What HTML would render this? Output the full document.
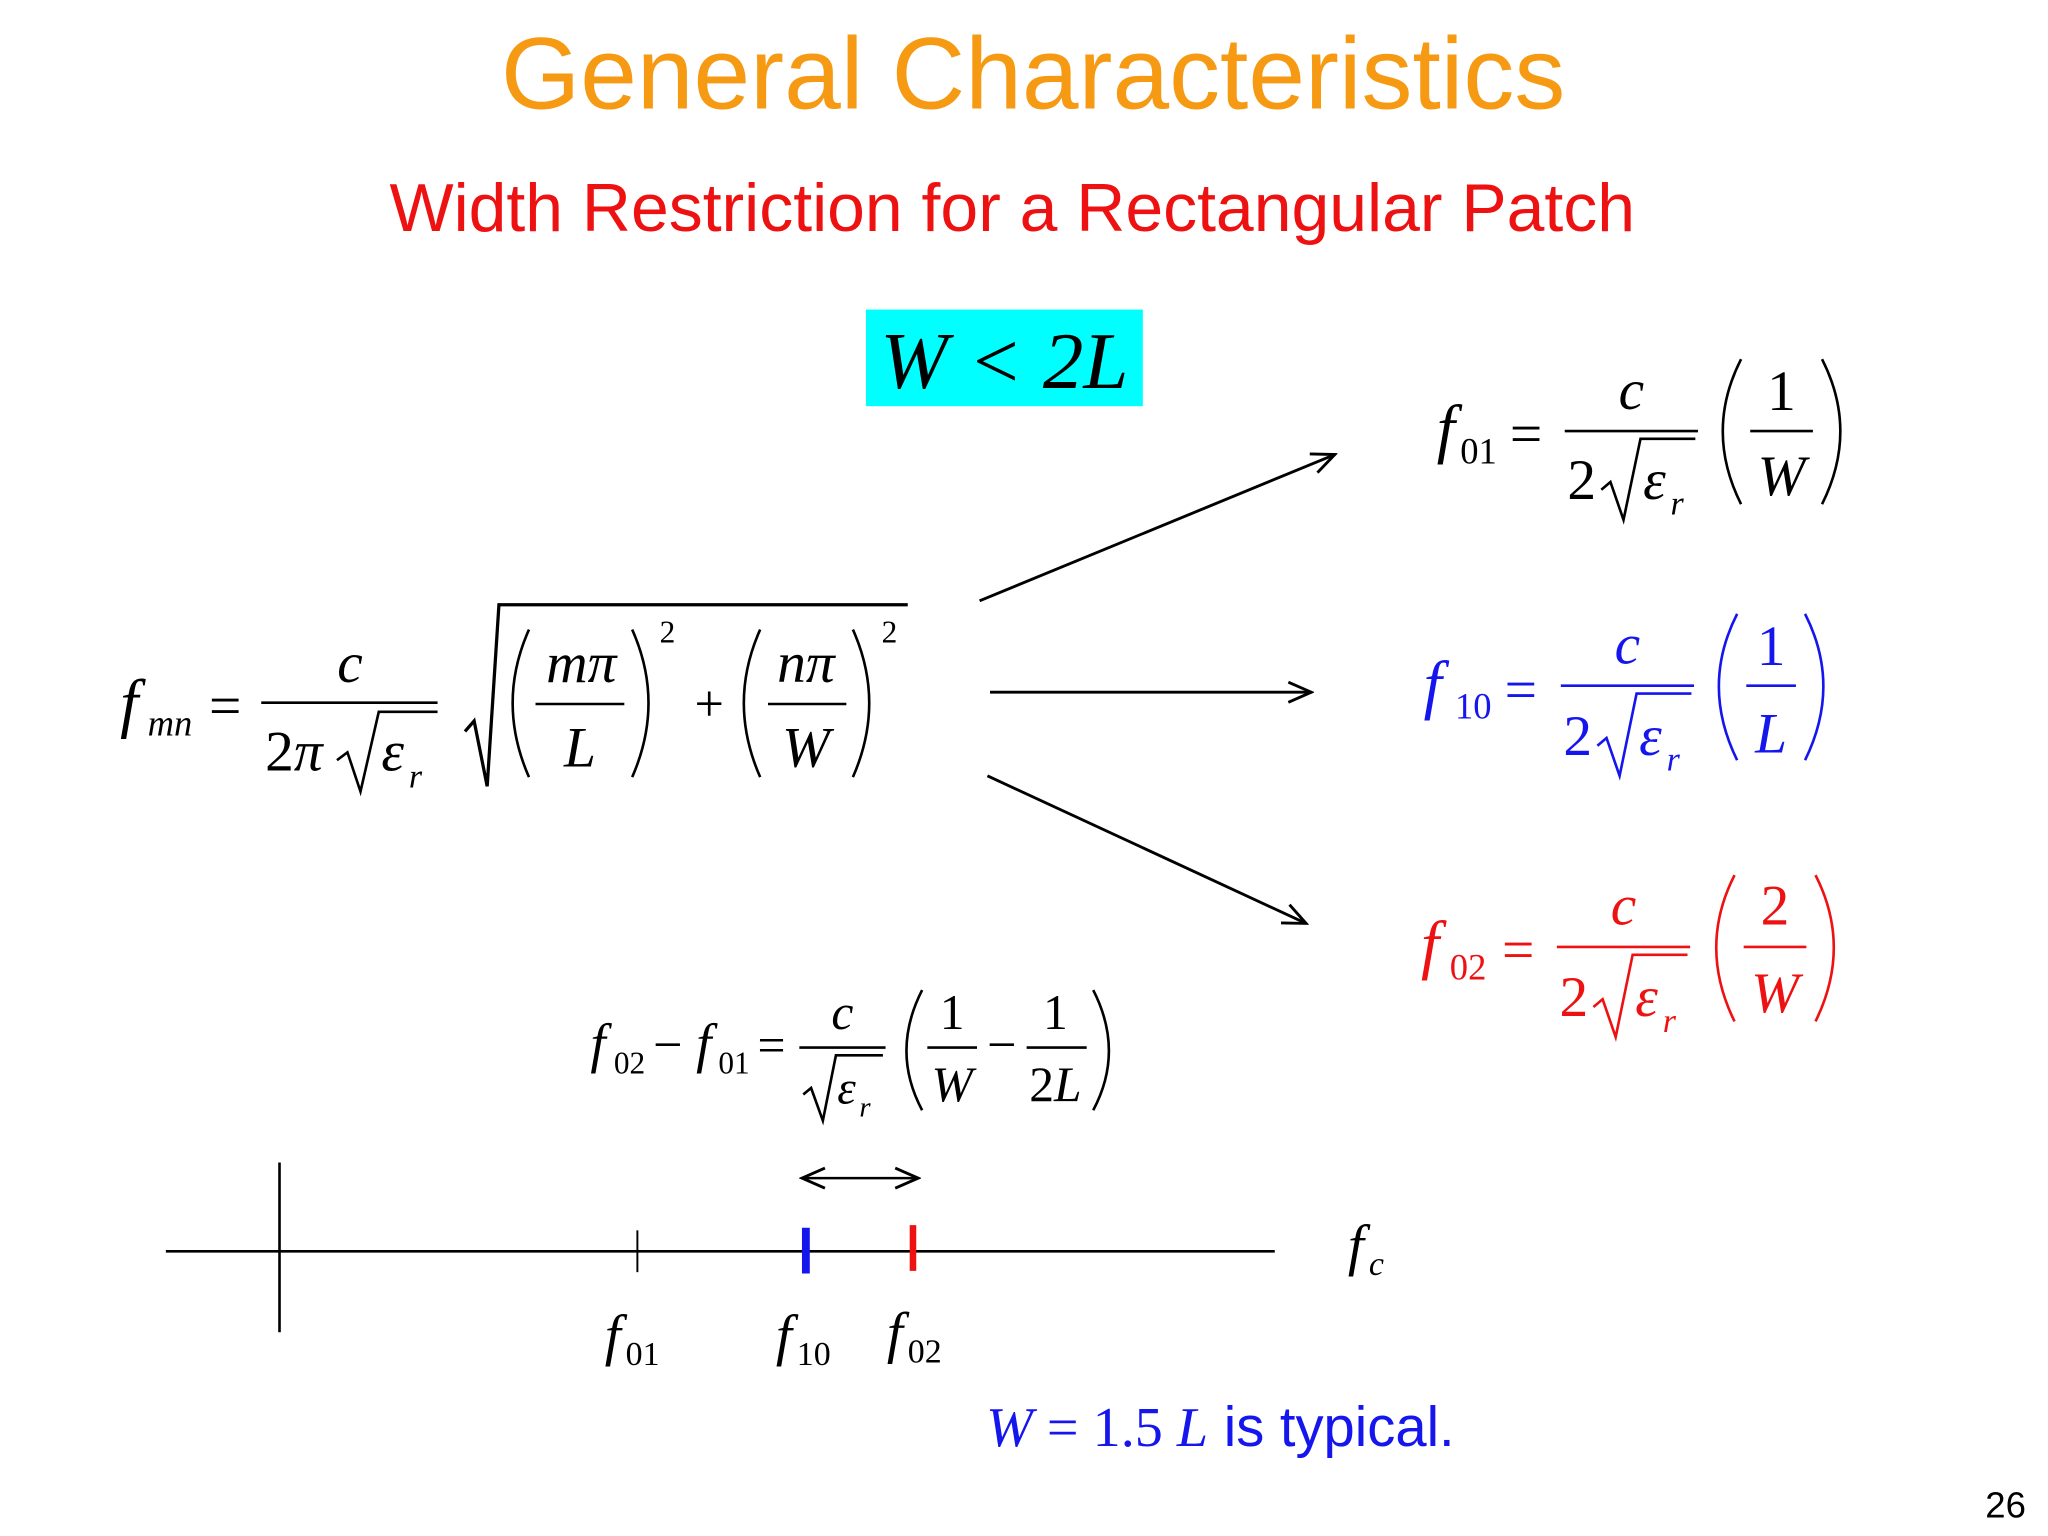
<!DOCTYPE html>
<html><head><meta charset="utf-8"><style>
html,body{margin:0;padding:0;background:#fff;}
svg{display:block}
.m{font-family:"Liberation Serif",serif;font-style:italic}
.n{font-family:"Liberation Serif",serif;font-style:normal}
.s{font-family:"Liberation Sans",sans-serif}
</style></head><body>
<svg width="2048" height="1536" viewBox="0 0 1568 1176" xmlns="http://www.w3.org/2000/svg">
<defs>
<marker id="ah" viewBox="0 0 20 20" refX="18" refY="10" markerWidth="22" markerHeight="22" markerUnits="userSpaceOnUse" orient="auto-start-reverse">
<path d="M2,3 L18,10 L2,17" fill="none" stroke="#000" stroke-width="2"/></marker>
</defs>
<text x="791" y="83" text-anchor="middle" class="s" font-size="78" fill="#F59A12">General Characteristics</text>
<text x="775" y="177" text-anchor="middle" class="s" font-size="52" fill="#EE1111">Width Restriction for a Rectangular Patch</text>
<rect x="663" y="237" width="212" height="74" fill="#00FFFF"/>
<text x="769" y="297" text-anchor="middle" class="m" font-size="62">W &lt; 2L</text>

<g stroke="#000" stroke-width="2.2" fill="none">
<line x1="750" y1="460" x2="1022" y2="348" marker-end="url(#ah)"/>
<line x1="758" y1="530" x2="1004" y2="530" marker-end="url(#ah)"/>
<line x1="756" y1="594" x2="1000" y2="707" marker-end="url(#ah)"/>
</g>

<g>
<text x="92" y="555" class="m" font-size="50">f</text>
<text x="113" y="563" class="m" font-size="28">mn</text>
<text x="160" y="555" class="n" font-size="44">=</text>
<line x1="200" y1="538" x2="335" y2="538" stroke="#000" stroke-width="2"/>
<text x="268" y="522" class="m" font-size="44" text-anchor="middle">c</text>
<text x="203" y="590" class="n" font-size="44">2</text>
<text x="225" y="590" class="m" font-size="44">π</text>
<path d="M258,582 L266,576 L276,606 L290,545 L335,545" fill="none" stroke="#000" stroke-width="2"/>
<text x="292" y="590" class="m" font-size="44">ε</text>
<text x="313" y="603" class="m" font-size="26">r</text>
<path d="M356,560 L363,552 L373,602 L382,463 L695,463" fill="none" stroke="#000" stroke-width="2.5"/>
<path d="M405,482 Q380,538 405,595" fill="none" stroke="#000" stroke-width="2"/>
<path d="M484,482 Q509,538 484,595" fill="none" stroke="#000" stroke-width="2"/>
<text x="505" y="492" class="n" font-size="24">2</text>
<text x="445" y="522" class="m" font-size="44" text-anchor="middle">mπ</text>
<line x1="410" y1="539" x2="478" y2="539" stroke="#000" stroke-width="2"/>
<text x="444" y="587" class="m" font-size="44" text-anchor="middle">L</text>
<text x="543" y="552" class="n" font-size="40" text-anchor="middle">+</text>
<path d="M582,482 Q557,538 582,595" fill="none" stroke="#000" stroke-width="2"/>
<path d="M653,482 Q678,538 653,595" fill="none" stroke="#000" stroke-width="2"/>
<text x="675" y="492" class="n" font-size="24">2</text>
<text x="617" y="522" class="m" font-size="44" text-anchor="middle">nπ</text>
<line x1="588" y1="539" x2="648" y2="539" stroke="#000" stroke-width="2"/>
<text x="617" y="587" class="m" font-size="44" text-anchor="middle">W</text>
</g>

<g fill="#000">
<text x="1100" y="345" class="m" font-size="50">f</text>
<text x="1118" y="355" class="n" font-size="28">01</text>
<text x="1156" y="347" class="n" font-size="44">=</text>
<line x1="1198" y1="330" x2="1300" y2="330" stroke="#000" stroke-width="2"/>
<text x="1249" y="313" class="m" font-size="44" text-anchor="middle">c</text>
<text x="1200" y="382" class="n" font-size="44">2</text>
<path d="M1226,375 L1233,369 L1243,398 L1256,336 L1298,336" fill="none" stroke="#000" stroke-width="2"/>
<text x="1258" y="382" class="m" font-size="44">ε</text>
<text x="1279" y="394" class="m" font-size="26">r</text>
<path d="M1333,275 Q1305,330 1333,386" fill="none" stroke="#000" stroke-width="2"/>
<path d="M1395,275 Q1423,330 1395,386" fill="none" stroke="#000" stroke-width="2"/>
<text x="1364" y="314" class="n" font-size="44" text-anchor="middle">1</text>
<line x1="1340" y1="330" x2="1388" y2="330" stroke="#000" stroke-width="2"/>
<text x="1364" y="379" class="m" font-size="44" text-anchor="middle">W</text>
</g>
<g fill="#1515EE">
<text x="1090" y="541" class="m" font-size="50">f</text>
<text x="1114" y="550" class="n" font-size="28">10</text>
<text x="1152" y="543" class="n" font-size="44">=</text>
<line x1="1195" y1="525" x2="1297" y2="525" stroke="#1515EE" stroke-width="2"/>
<text x="1246" y="508" class="m" font-size="44" text-anchor="middle">c</text>
<text x="1197" y="578" class="n" font-size="44">2</text>
<path d="M1223,571 L1230,565 L1240,594 L1253,531 L1295,531" fill="none" stroke="#1515EE" stroke-width="2"/>
<text x="1255" y="578" class="m" font-size="44">ε</text>
<text x="1276" y="590" class="m" font-size="26">r</text>
<path d="M1330,470 Q1302,525 1330,582" fill="none" stroke="#1515EE" stroke-width="2"/>
<path d="M1382,470 Q1410,525 1382,582" fill="none" stroke="#1515EE" stroke-width="2"/>
<text x="1356" y="509" class="n" font-size="44" text-anchor="middle">1</text>
<line x1="1337" y1="525" x2="1375" y2="525" stroke="#1515EE" stroke-width="2"/>
<text x="1356" y="576" class="m" font-size="44" text-anchor="middle">L</text>
</g>
<g fill="#EE1111">
<text x="1088" y="740" class="m" font-size="50">f</text>
<text x="1110" y="750" class="n" font-size="28">02</text>
<text x="1150" y="742" class="n" font-size="44">=</text>
<line x1="1192" y1="725" x2="1294" y2="725" stroke="#EE1111" stroke-width="2"/>
<text x="1243" y="708" class="m" font-size="44" text-anchor="middle">c</text>
<text x="1194" y="778" class="n" font-size="44">2</text>
<path d="M1220,771 L1227,765 L1237,794 L1250,731 L1292,731" fill="none" stroke="#EE1111" stroke-width="2"/>
<text x="1252" y="778" class="m" font-size="44">ε</text>
<text x="1273" y="790" class="m" font-size="26">r</text>
<path d="M1328,670 Q1300,725 1328,782" fill="none" stroke="#EE1111" stroke-width="2"/>
<path d="M1390,670 Q1418,725 1390,782" fill="none" stroke="#EE1111" stroke-width="2"/>
<text x="1359" y="708" class="n" font-size="44" text-anchor="middle">2</text>
<line x1="1335" y1="725" x2="1383" y2="725" stroke="#EE1111" stroke-width="2"/>
<text x="1359" y="775" class="m" font-size="44" text-anchor="middle">W</text>
</g>

<g>
<text x="452" y="813" class="m" font-size="42">f</text>
<text x="470" y="822" class="n" font-size="24">02</text>
<text x="500" y="813" class="n" font-size="40">−</text>
<text x="533" y="813" class="m" font-size="42">f</text>
<text x="550" y="822" class="n" font-size="24">01</text>
<text x="580" y="813" class="n" font-size="38">=</text>
<line x1="612" y1="802" x2="678" y2="802" stroke="#000" stroke-width="2"/>
<text x="645" y="788" class="m" font-size="38" text-anchor="middle">c</text>
<path d="M615,838 L621,833 L630,858 L640,808 L676,808" fill="none" stroke="#000" stroke-width="2"/>
<text x="641" y="845" class="m" font-size="36">ε</text>
<text x="658" y="855" class="m" font-size="22">r</text>
<path d="M706,758 Q682,805 706,850" fill="none" stroke="#000" stroke-width="2"/>
<path d="M837,758 Q861,805 837,850" fill="none" stroke="#000" stroke-width="2"/>
<text x="729" y="788" class="n" font-size="38" text-anchor="middle">1</text>
<line x1="710" y1="802" x2="748" y2="802" stroke="#000" stroke-width="2"/>
<text x="729" y="843" class="m" font-size="38" text-anchor="middle">W</text>
<text x="767" y="813" class="n" font-size="40" text-anchor="middle">−</text>
<text x="808" y="788" class="n" font-size="38" text-anchor="middle">1</text>
<line x1="786" y1="802" x2="832" y2="802" stroke="#000" stroke-width="2"/>
<text x="788" y="843" class="n" font-size="38">2</text><text x="807" y="843" class="m" font-size="38">L</text>
</g>

<line x1="614" y1="902" x2="703" y2="902" stroke="#000" stroke-width="2" marker-start="url(#ah)" marker-end="url(#ah)"/>
<line x1="127" y1="958" x2="976" y2="958" stroke="#000" stroke-width="2"/>
<line x1="214" y1="890" x2="214" y2="1020" stroke="#000" stroke-width="2"/>
<line x1="488" y1="942" x2="488" y2="974" stroke="#000" stroke-width="1.5"/>
<line x1="617" y1="940" x2="617" y2="975" stroke="#1515EE" stroke-width="6"/>
<line x1="699" y1="938" x2="699" y2="973" stroke="#EE1111" stroke-width="5"/>
<text x="1032" y="968" class="m" font-size="44">f</text><text x="1048" y="976" class="m" font-size="26">c</text>
<text x="463" y="1037" class="m" font-size="44">f</text><text x="479" y="1045" class="n" font-size="26">01</text>
<text x="594" y="1037" class="m" font-size="44">f</text><text x="610" y="1045" class="n" font-size="26">10</text>
<text x="679" y="1035" class="m" font-size="44">f</text><text x="695" y="1043" class="n" font-size="26">02</text>

<text x="755" y="1107" font-size="43" fill="#1515EE"><tspan class="m">W</tspan><tspan class="n"> = 1.5 </tspan><tspan class="m">L</tspan><tspan class="s"> is typical.</tspan></text>
<text x="1520" y="1162" class="s" font-size="28" fill="#000">26</text>
</svg>
</body></html>
